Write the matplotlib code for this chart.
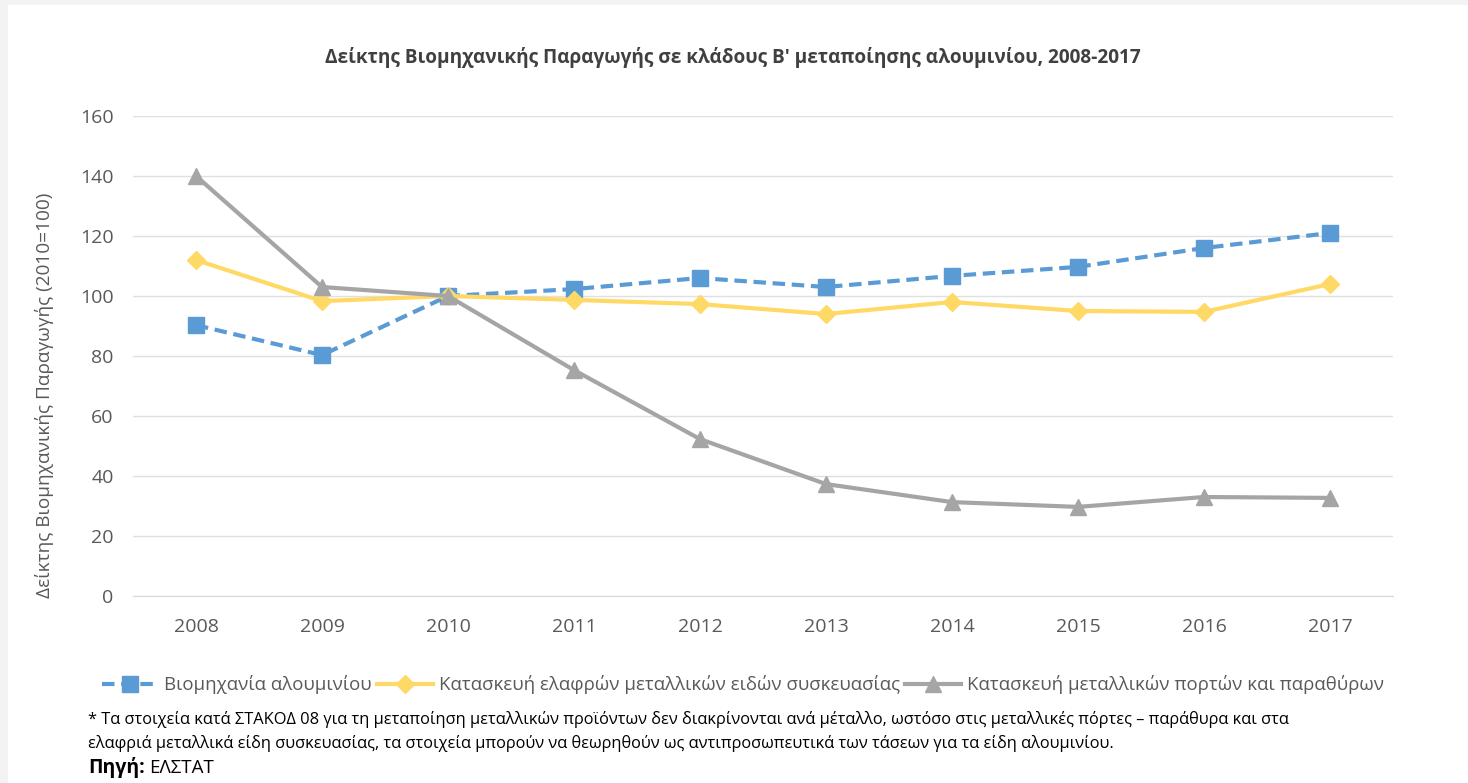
import matplotlib
matplotlib.use("Agg")
import matplotlib.pyplot as plt
from matplotlib import font_manager
from matplotlib.patches import Rectangle

years = ["2008", "2009", "2010", "2011", "2012", "2013", "2014", "2015", "2016", "2017"]
aluminium = [90.3, 80.3, 100, 102.3, 106, 103, 106.7, 109.7, 116, 121]
packaging = [112, 98.3, 100, 98.7, 97.3, 94, 98, 95, 94.7, 104]
doors_windows = [140, 103, 100, 75.3, 52.3, 37.3, 31.3, 29.7, 33, 32.7]

labels = ["Βιομηχανία αλουμινίου",
          "Κατασκευή ελαφρών μεταλλικών ειδών συσκευασίας",
          "Κατασκευή μεταλλικών πορτών και παραθύρων"]

title = "Δείκτης Βιομηχανικής Παραγωγής σε κλάδους Β' μεταποίησης αλουμινίου, 2008-2017"
ylabel = "Δείκτης Βιομηχανικής Παραγωγής (2010=100)"
note1 = ("* Τα στοιχεία κατά ΣΤΑΚΟΔ 08 για τη μεταποίηση μεταλλικών προϊόντων δεν διακρίνονται ανά μέταλλο, "
         "ωστόσο στις μεταλλικές πόρτες – παράθυρα και στα")
note2 = ("ελαφριά μεταλλικά είδη συσκευασίας, τα στοιχεία μπορούν να θεωρηθούν ως αντιπροσωπευτικά "
         "των τάσεων για τα είδη αλουμινίου.")

# pick a font that is actually there
available = {f.name for f in font_manager.fontManager.ttflist}
font = "DejaVu Sans"
for cand in ["Open Sans", "Noto Sans", "Liberation Sans"]:
    if cand in available:
        font = cand
        break
plt.rcParams["font.family"] = [font, "DejaVu Sans"]

W, H = 1468, 783
fig = plt.figure(figsize=(W / 100, H / 100), dpi=100, facecolor="#f3f3f3")
fig.patches.append(Rectangle((8 / W, 0), 1, 1 - 5 / H, transform=fig.transFigure,
                             facecolor="white", edgecolor="none", zorder=-1))

ax = fig.add_axes([133 / W, 1 - 596 / H, (1393 - 133) / W, (596 - 116) / H])
ax.set_zorder(2)
ax.set_facecolor("white")
x = range(len(years))

ax.plot(x, aluminium, color="#5b9bd5", lw=3, ls=(0, (3, 1.6)), marker="s", ms=11,
        label=labels[0], zorder=3)
ax.plot(x, packaging, color="#ffd966", lw=3, marker="D", ms=9, label=labels[1], zorder=3)
ax.plot(x, doors_windows, color="#a5a5a5", lw=3, marker="^", ms=11, label=labels[2], zorder=3)

ax.set_xlim(-0.5, len(years) - 0.5)
ax.set_ylim(0, 160)
ax.set_yticks(range(0, 161, 20))
ax.set_xticks(list(x))
ax.set_xticklabels(years)
ax.grid(axis="y", color="#e0e0e0", lw=1)
ax.set_axisbelow(True)
for s in ["top", "right", "left"]:
    ax.spines[s].set_visible(False)
ax.spines["bottom"].set_color("#d9d9d9")
ax.tick_params(length=0, labelsize=14, labelcolor="#595959")
ax.tick_params(axis="x", pad=15.5)
ax.tick_params(axis="y", pad=14)
ax.set_ylabel(ylabel, fontsize=13.7, color="#595959")
ax.yaxis.set_label_coords(-0.0625, 0.419)

fig.text(733 / W, 1 - 58 / H, title, ha="center", va="center", fontsize=13.7,
         fontweight="bold", color="#404040")

fig.legend(loc="center", bbox_to_anchor=(743 / W, 1 - 685 / H), ncol=3, frameon=False,
           fontsize=13.4, labelcolor="#595959", handlelength=3.0, handletextpad=0.3,
           columnspacing=0.3)

fig.text(88 / W, 1 - 720 / H, note1, ha="left", va="center", fontsize=11.75, color="black")
fig.text(88 / W, 1 - 744 / H, note2, ha="left", va="center", fontsize=11.75, color="black")
src = fig.text(88 / W, 1 - 768 / H, "Πηγή:", ha="left", va="center", fontsize=14,
               fontweight="bold", color="black")
bb = src.get_window_extent(renderer=fig.canvas.get_renderer())
fig.text((bb.x1 + 4) / W, 1 - 768 / H, "ΕΛΣΤΑΤ", ha="left", va="center", fontsize=13.5,
         color="black")

fig.savefig("out.png", dpi=100, facecolor=fig.get_facecolor())
